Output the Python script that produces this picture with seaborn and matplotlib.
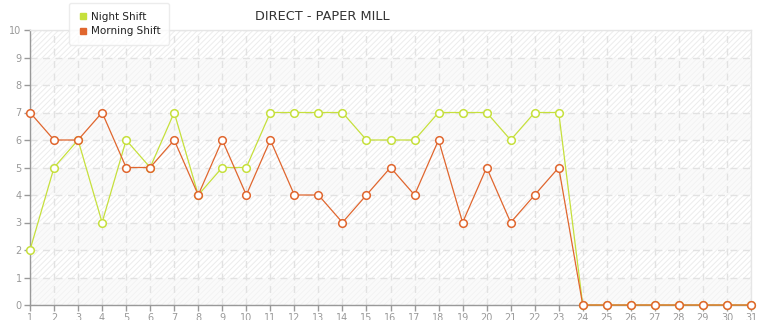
import matplotlib
matplotlib.use("Agg")
import matplotlib.pyplot as plt
from matplotlib.lines import Line2D
import seaborn as sns
import pandas as pd

days = list(range(1, 32))
night_shift = [2, 5, 6, 3, 6, 5, 7, 4, 5, 5, 7, 7, 7, 7, 6, 6, 6, 7, 7, 7, 6, 7, 7,
               0, 0, 0, 0, 0, 0, 0, 0]
morning_shift = [7, 6, 6, 7, 5, 5, 6, 4, 6, 4, 6, 4, 4, 3, 4, 5, 4, 6, 3, 5, 3, 4, 5,
                 0, 0, 0, 0, 0, 0, 0, 0]
series_names = ["Night Shift", "Morning Shift"]
colors = {"Night Shift": "#c6e03c", "Morning Shift": "#e0662e"}
title = "DIRECT - PAPER MILL"

df = pd.DataFrame({
    "day": days * 2,
    "value": night_shift + morning_shift,
    "series": [series_names[0]] * len(days) + [series_names[1]] * len(days),
})

sns.set_style("white")
plt.rcParams['font.family'] = ['DejaVu Sans']

fig = plt.figure(figsize=(7.65, 3.2), dpi=100)
ax = fig.add_axes([30 / 765, 1 - 305 / 320, (751 - 30) / 765, (305 - 30) / 320])
ax.set_facecolor("white")

# background: hatched + alternating bands
plt.rcParams['hatch.color'] = '#ececec'
plt.rcParams['hatch.linewidth'] = 0.7
ax.axhspan(0, 10, facecolor="white", hatch="//////", edgecolor="#ececec", linewidth=0, zorder=0)
for lo in [0, 2, 4, 6, 8]:
    ax.axhspan(lo, lo + 1, facecolor="#f8f8f8", alpha=0.6, linewidth=0, zorder=0.1)

sns.lineplot(data=df, x="day", y="value", hue="series", palette=colors,
             marker="o", markersize=5.5, markerfacecolor="white", markeredgewidth=1.1,
             linewidth=0.9, ax=ax, legend=False, zorder=3)
for line in ax.lines:
    line.set_markeredgecolor(line.get_color())
    line.set_clip_on(False)

ax.set_xlim(1, 31)
ax.set_ylim(0, 10)
ax.set_xticks(days)
ax.set_yticks(range(0, 11))
ax.grid(True, color="#e2e2e2", linestyle=(0, (5, 4)), linewidth=1.0, zorder=1)
ax.set_axisbelow(True)
ax.set_xlabel("")
ax.set_ylabel("")

for s in ["left", "bottom"]:
    ax.spines[s].set_color("#999999")
    ax.spines[s].set_linewidth(1.0)
for s in ["top", "right"]:
    ax.spines[s].set_color("#e6e6e6")
    ax.spines[s].set_linewidth(1.0)

ax.tick_params(axis="both", colors="#999999", labelcolor="#999999", labelsize=7,
               length=4, width=1, direction="out", left=True, bottom=True, pad=2)

fig.text(322 / 765, 1 - 17 / 320, title, ha="center", va="center",
         fontsize=9.3, color="#333333")

handles = [Line2D([0], [0], marker="s", linestyle="none", markersize=4.5,
                  markerfacecolor=colors[n], markeredgecolor=colors[n]) for n in series_names]
leg = fig.legend(handles, series_names, loc="upper left",
                 bbox_to_anchor=(64 / 765, 1 + 2 / 320), fontsize=7.5, frameon=True,
                 fancybox=True, shadow=False, handletextpad=0.3, labelspacing=0.45,
                 borderpad=0.8, handlelength=1.0)
leg.get_frame().set_edgecolor("#e8e8e8")
leg.get_frame().set_facecolor("white")
for t in leg.get_texts():
    t.set_color("#222222")

fig.savefig("out.png", dpi=100)
